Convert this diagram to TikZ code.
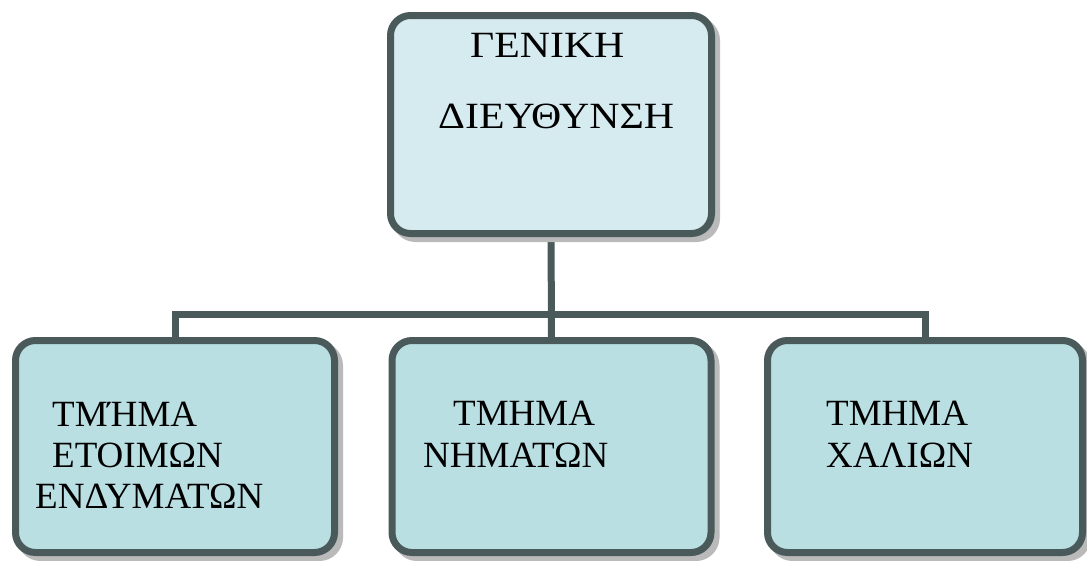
\documentclass[tikz,border=0pt]{standalone}
\usepackage{fontspec}
\setmainfont{Liberation Serif}
\newfontfamily\widefont[FakeStretch=1.13]{Liberation Serif}
\usetikzlibrary{shadows}
\definecolor{bordercol}{RGB}{74,89,90}
\definecolor{topfill}{RGB}{214,235,240}
\definecolor{botfill}{RGB}{186,223,227}
\definecolor{shadowcol}{RGB}{186,186,186}
\tikzset{
  box/.style={draw=bordercol, line width=7pt, rounded corners=20pt, inner sep=0pt,
    drop shadow={draw=shadowcol, fill=shadowcol, line width=7pt, opacity=1,
      shadow xshift=5pt, shadow yshift=-5pt}},
  topbox/.style={box, fill=topfill, minimum width=321pt, minimum height=218pt},
  botbox/.style={box, fill=botfill, minimum width=319pt, minimum height=212pt},
  conn/.style={draw=bordercol, line width=7pt, line join=miter},
  lbl/.style={inner sep=0pt, anchor=base west, font=\fontsize{37}{40}\selectfont},
  toplbl/.style={lbl, font=\widefont\fontsize{37}{40}\selectfont}
}
\begin{document}
\begin{tikzpicture}[x=1pt,y=-1pt]
\useasboundingbox (0,0) rectangle (1087,560);
\coordinate (bus) at (551.5,314.5);
\path (551,124.5) coordinate (topc);
\path (175,446.5) coordinate (lc);
\path (551.5,446.5) coordinate (mc);
\path (925,446.5) coordinate (rc);
% connectors
\draw[conn] (topc) -- (mc);
\draw[conn] (lc) -- (lc |- bus) -- (rc |- bus) -- (rc);
% boxes
\node[topbox] (top) at (topc) {};
\node[botbox] (left) at (lc) {};
\node[botbox] (mid) at (mc) {};
\node[botbox, minimum width=315pt] (right) at (rc) {};
% labels
\node[toplbl] (t1) at (470,57) {ΓΕΝΙΚΗ};
\node[toplbl] (t2) at (438,128) {ΔΙΕΥΘΥΝΣΗ};
\node[lbl] (l1) at (52,426) {ΤΜΉΜΑ};
\node[lbl] (l2) at (52,467) {ΕΤΟΙΜΩΝ};
\node[lbl] (l3) at (35,508) {ΕΝΔΥΜΑΤΩΝ};
\node[lbl] (m1) at (453,425) {ΤΜΗΜΑ};
\node[lbl] (m2) at (423,467) {ΝΗΜΑΤΩΝ};
\node[lbl] (r1) at (826,425) {ΤΜΗΜΑ};
\node[lbl] (r2) at (826,467) {ΧΑΛΙΩΝ};
\end{tikzpicture}
\end{document}
